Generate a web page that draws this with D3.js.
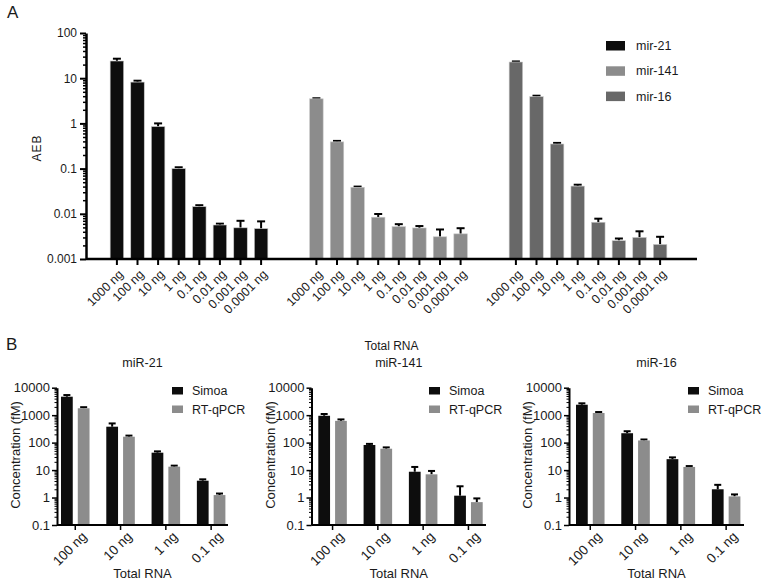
<!DOCTYPE html>
<html><head><meta charset="utf-8">
<script src="https://cdn.jsdelivr.net/npm/d3@7"></script>
<style>
body{margin:0;background:#fff;}
svg{display:block;font-family:"Liberation Sans",Arial,sans-serif;}
</style></head>
<body><svg id="c" width="764" height="583"></svg>
<script>
// ---------- Data: panel A ----------
const amountsA = ["1000 ng","100 ng","10 ng","1 ng","0.1 ng","0.01 ng","0.001 ng","0.0001 ng"];
const seriesA = ["mir-21","mir-141","mir-16"];
const colorsA = ["#0d0d0d","#8c8c8c","#686868"];
const mir21Mean = [24, 8.2, 0.85, 0.10, 0.0144, 0.00565, 0.0049, 0.0047];
const mir21Err  = [3, 0.6, 0.15, 0.007, 0.0011, 0.0004, 0.0021, 0.0021];
const mir141Mean = [3.5, 0.39, 0.0386, 0.0084, 0.0052, 0.00486, 0.0031, 0.0036];
const mir141Err  = [0.1, 0.02, 0.0014, 0.0015, 0.0007, 0.0005, 0.0014, 0.0012];
const mir16Mean = [22.8, 3.9, 0.35, 0.041, 0.0065, 0.00254, 0.0030, 0.0021];
const mir16Err  = [0.7, 0.2, 0.02, 0.003, 0.0013, 0.0003, 0.0011, 0.0010];
const ticksA = [0.001, 0.01, 0.1, 1, 10, 100];

// ---------- Data: panel B ----------
const amountsB = ["100 ng","10 ng","1 ng","0.1 ng"];
const methodsB = ["Simoa","RT-qPCR"];
const colorsB = ["#0d0d0d","#8c8c8c"];
const titlesB = ["miR-21","miR-141","miR-16"];
const simoa21 = [4700, 380, 43, 4.1];   const simoa21Err = [700, 120, 5, 0.5];
const rt21    = [1780, 164, 13.3, 1.23]; const rt21Err = [170, 16, 1.2, 0.17];
const simoa141 = [950, 82, 8.7, 1.17];  const simoa141Err = [150, 8, 4.3, 1.4];
const rt141    = [620, 60, 7.0, 0.68];  const rt141Err = [80, 7, 2.3, 0.25];
const simoa16 = [2400, 220, 25, 2.0];   const simoa16Err = [300, 40, 4, 0.9];
const rt16    = [1200, 120, 13, 1.1];   const rt16Err = [100, 10, 1, 0.2];
const ticksB = [0.1, 1, 10, 100, 1000, 10000];

const svg = d3.select("#c");
const txt = "#1a1a1a";
const fmt = d3.format("~g");

function minorTicks(lo, hi){
  const out=[];
  for(let e=Math.round(Math.log10(lo)); e<Math.round(Math.log10(hi)); e++){
    for(let k=2;k<=9;k++) out.push(k*Math.pow(10,e));
  }
  return out;
}

// ================= Panel A =================
{
  const axX = 86, axRight = 697;
  const y = d3.scaleLog().domain([0.001,100]).range([259,33]);
  const outer = d3.scaleBand().domain(seriesA).range([89.25,687.75]).paddingInner(0).paddingOuter(0);
  const inner = d3.scaleBand().domain(amountsA).range([(outer.bandwidth()-164.8)/2,(outer.bandwidth()+164.8)/2]).paddingInner(0.345).paddingOuter(0.1725);
  const data = [[mir21Mean,mir21Err],[mir141Mean,mir141Err],[mir16Mean,mir16Err]];

  svg.append("text").attr("x",7).attr("y",18).attr("font-size",17).attr("fill",txt).text("A");

  seriesA.forEach((s,si)=>{
    const g = svg.append("g").attr("transform",`translate(${outer(s)},0)`);
    const rows = amountsA.map((a,i)=>({a, v:data[si][0][i], e:data[si][1][i]}));
    const eb = g.selectAll(".eb").data(rows).enter().append("g");
    eb.append("line").attr("x1",d=>inner(d.a)+inner.bandwidth()/2).attr("x2",d=>inner(d.a)+inner.bandwidth()/2)
      .attr("y1",d=>y(d.v)).attr("y2",d=>y(d.v+d.e)).attr("stroke","#000").attr("stroke-width",2);
    eb.append("line").attr("x1",d=>inner(d.a)+inner.bandwidth()/2-4).attr("x2",d=>inner(d.a)+inner.bandwidth()/2+4)
      .attr("y1",d=>y(d.v+d.e)).attr("y2",d=>y(d.v+d.e)).attr("stroke","#000").attr("stroke-width",2);
    g.selectAll("rect").data(rows).enter().append("rect")
      .attr("x",d=>inner(d.a)).attr("width",inner.bandwidth())
      .attr("y",d=>y(d.v)).attr("height",d=>y(0.001)-y(d.v))
      .attr("fill",colorsA[si]).attr("stroke","#c8c8c8").attr("stroke-width",0.6);
    const xa = g.append("g").attr("transform",`translate(0,${y(0.001)})`)
      .call(d3.axisBottom(inner).tickSize(6).tickSizeOuter(0));
    xa.select(".domain").remove();
    xa.selectAll(".tick line").attr("stroke","#000").attr("stroke-width",2);
    xa.selectAll(".tick text").attr("font-size",12.5).attr("fill",txt)
      .attr("text-anchor","end").attr("x",0).attr("y",0).attr("dy","0.35em")
      .attr("transform","translate(4,13) rotate(-45)");
  });
  svg.append("line").attr("x1",axX).attr("x2",axRight).attr("y1",y(0.001)).attr("y2",y(0.001))
    .attr("stroke","#000").attr("stroke-width",2.5);
  const ya = svg.append("g").attr("transform",`translate(${axX},0)`)
    .call(d3.axisLeft(y).tickValues(ticksA).tickFormat(fmt).tickSize(6).tickSizeOuter(0));
  ya.select(".domain").attr("stroke","#000").attr("stroke-width",2.5);
  ya.selectAll(".tick line").attr("stroke","#000").attr("stroke-width",2);
  ya.selectAll(".tick text").attr("font-size",12).attr("fill",txt).attr("x",-9);
  const ym = svg.append("g").attr("transform",`translate(${axX},0)`)
    .call(d3.axisLeft(y).tickValues(minorTicks(0.001,100)).tickFormat("").tickSize(3).tickSizeOuter(0));
  ym.select(".domain").remove();
  ym.selectAll(".tick line").attr("stroke","#000").attr("stroke-width",1.5);
  svg.append("text").attr("transform",`translate(41,148) rotate(-90)`).attr("text-anchor","middle")
    .attr("font-size",12).attr("fill",txt).attr("letter-spacing","1px").text("AEB");
  svg.append("text").attr("x",(axX+axRight)/2).attr("y",350).attr("text-anchor","middle")
    .attr("font-size",12).attr("fill",txt).text("Total RNA");
  const lg = svg.append("g");
  seriesA.forEach((s,i)=>{
    lg.append("rect").attr("x",606).attr("y",41+i*25.3).attr("width",19).attr("height",9.5).attr("fill",colorsA[i]);
    lg.append("text").attr("x",636).attr("y",45.8+i*25.3).attr("dy","0.35em").attr("font-size",12.5).attr("fill",txt).text(s);
  });
}

// ================= Panel B =================
svg.append("text").attr("x",6).attr("y",350).attr("font-size",17).attr("fill",txt).text("B");
{
  const y = d3.scaleLog().domain([0.1,10000]).range([525,387.7]);
  const panels = [
    {axX:57, r:[61,225.4], end:228, yt:15, leg:172, data:[[simoa21,simoa21Err],[rt21,rt21Err]]},
    {axX:311.5, r:[318.3,482.7], end:486, yt:270, leg:429, data:[[simoa141,simoa141Err],[rt141,rt141Err]]},
    {axX:569, r:[576,740.4], end:744, yt:527, leg:688, data:[[simoa16,simoa16Err],[rt16,rt16Err]]}
  ];
  panels.forEach((p,pi)=>{
    const x = d3.scaleBand().domain(amountsB).range(p.r).paddingInner(0.37).paddingOuter(0);
    const xi = d3.scaleBand().domain(methodsB).range([0,x.bandwidth()]).paddingInner(0.3).paddingOuter(0);
    const g = svg.append("g");
    methodsB.forEach((m,mi)=>{
      const rows = amountsB.map((a,i)=>({a, v:p.data[mi][0][i], e:p.data[mi][1][i]}));
      const cx = d=>x(d.a)+xi(m)+xi.bandwidth()/2;
      g.selectAll(null).data(rows).enter().append("line")
        .attr("x1",cx).attr("x2",cx).attr("y1",d=>y(d.v)).attr("y2",d=>y(d.v+d.e))
        .attr("stroke","#000").attr("stroke-width",2);
      g.selectAll(null).data(rows).enter().append("line")
        .attr("x1",d=>cx(d)-3.5).attr("x2",d=>cx(d)+3.5).attr("y1",d=>y(d.v+d.e)).attr("y2",d=>y(d.v+d.e))
        .attr("stroke","#000").attr("stroke-width",2);
      g.selectAll(null).data(rows).enter().append("rect")
        .attr("x",d=>x(d.a)+xi(m)).attr("width",xi.bandwidth())
        .attr("y",d=>y(d.v)).attr("height",d=>y(0.1)-y(d.v)).attr("fill",colorsB[mi]);
    });
    const xa = g.append("g").attr("transform",`translate(0,${y(0.1)})`)
      .call(d3.axisBottom(x).tickSize(5).tickSizeOuter(0));
    xa.select(".domain").remove();
    xa.selectAll(".tick line").attr("stroke","#000").attr("stroke-width",1.5);
    xa.selectAll(".tick text").attr("font-size",13.5).attr("fill",txt)
      .attr("text-anchor","end").attr("x",0).attr("y",0).attr("dy","0.35em")
      .attr("transform","translate(9,9) rotate(-45)");
    g.append("line").attr("x1",p.axX).attr("x2",p.end).attr("y1",y(0.1)).attr("y2",y(0.1))
      .attr("stroke","#000").attr("stroke-width",2);
    const ya = g.append("g").attr("transform",`translate(${p.axX},0)`)
      .call(d3.axisLeft(y).tickValues(ticksB).tickFormat(fmt).tickSize(5).tickSizeOuter(0));
    ya.select(".domain").attr("stroke","#000").attr("stroke-width",2);
    ya.selectAll(".tick line").attr("stroke","#000").attr("stroke-width",1.5);
    ya.selectAll(".tick text").attr("font-size",13).attr("fill",txt).attr("x",-7);
    const ym = g.append("g").attr("transform",`translate(${p.axX},0)`)
      .call(d3.axisLeft(y).tickValues(minorTicks(0.1,10000)).tickFormat("").tickSize(2.5).tickSizeOuter(0));
    ym.select(".domain").remove();
    ym.selectAll(".tick line").attr("stroke","#000").attr("stroke-width",1);
    g.append("text").attr("x",(p.axX+p.end)/2).attr("y",367).attr("text-anchor","middle")
      .attr("font-size",12.5).attr("fill",txt).text(titlesB[pi]);
    g.append("text").attr("transform",`translate(${p.yt},455) rotate(-90)`).attr("text-anchor","middle")
      .attr("dy","0.35em").attr("font-size",13).attr("fill",txt).text("Concentration (fM)");
    g.append("text").attr("x",(p.axX+p.end)/2).attr("y",578).attr("text-anchor","middle")
      .attr("font-size",13).attr("fill",txt).text("Total RNA");
    methodsB.forEach((m,mi)=>{
      g.append("rect").attr("x",p.leg).attr("y",387+mi*18.5).attr("width",11).attr("height",7.5).attr("fill",colorsB[mi]);
      g.append("text").attr("x",p.leg+20).attr("y",390.8+mi*18.5).attr("dy","0.35em")
        .attr("font-size",12.5).attr("fill",txt).text(m);
    });
  });
}
</script></body></html>
